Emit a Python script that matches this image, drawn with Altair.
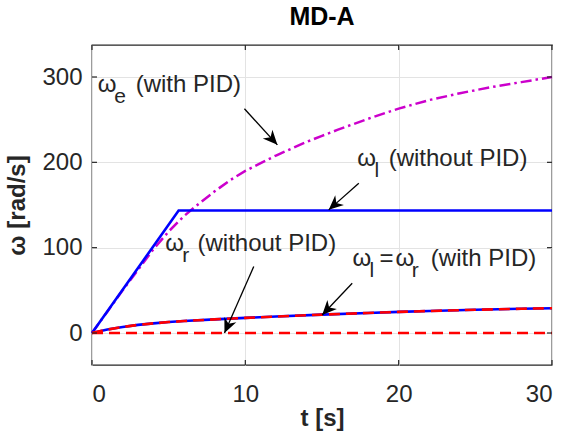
import math
import altair as alt
import pandas as pd

# ---------------- data ----------------
# omega_e with PID (magenta dash-dot)
t_e = [0, 1, 2, 3, 4, 5, 6, 7, 8, 9, 10, 11, 12, 13, 14, 15, 16, 18, 20, 22, 24, 26, 28, 30]
w_e = [0, 25, 50, 74, 98, 119, 137, 152, 166, 179, 190, 199, 208, 216, 224, 231, 238, 251, 263, 273, 281, 288, 294, 300]

# omega_l without PID (blue solid)
t_l0 = [0, 5.65, 30]
w_l0 = [0, 143.5, 143.5]

# omega_l = omega_r with PID (blue solid + red dashed)
t_pid = [0, 1, 2, 3, 4, 5, 6, 8, 10, 12, 15, 18, 20, 22, 25, 28, 30]
w_pid = [0, 4, 7, 9.5, 11.3, 12.8, 14, 16, 17.7, 19.3, 21.5, 23.5, 24.7, 25.8, 27.2, 28.4, 29]

# omega_r without PID (red dashed)
t_r0 = [0, 30]
w_r0 = [0, 0]

x_ticks = [0, 10, 20, 30]
y_ticks = [0, 100, 200, 300]
x_domain = [0, 30]
y_domain = [-37.5, 337.5]

# annotation text pieces (main size), anchored at left / baseline
ann_text = ["ω", "(with PID)", "ω", "(without PID)", "ω", "(without PID)", "ω", "=", "ω", "(with PID)"]
ann_t = [0.38, 2.85, 17.30, 19.35, 4.78, 6.88, 16.99, 18.75, 19.80, 22.10]
ann_v = [282.7, 282.7, 195.9, 195.9, 96.2, 96.2, 78.6, 78.6, 78.6, 78.6]

# subscript pieces
sub_text = ["e", "l", "r", "l", "r"]
sub_t = [1.45, 18.42, 5.88, 18.10, 20.85]
sub_v = [282.7, 195.9, 96.2, 78.6, 78.6]

# arrows: start -> tip
arr_t0 = [9.94, 17.40, 10.55, 16.97]
arr_v0 = [262.8, 175.6, 77.8, 58.3]
arr_t1 = [12.09, 15.44, 8.64, 15.01]
arr_v1 = [220.5, 144.3, 0.0, 21.1]

# ---------------- layout ----------------
W, H = 460, 320
FONT = "Liberation Sans"
TXT = "#262626"

xs = alt.Scale(domain=x_domain, nice=False, zero=False)
ys = alt.Scale(domain=y_domain, nice=False, zero=False)

x_axis = alt.Axis(values=x_ticks, title="t [s]", labelPadding=17, titlePadding=0,
                  grid=True, format="d")
y_axis = alt.Axis(values=y_ticks, title="ω [rad/s]", labelPadding=10, titlePadding=12,
                  grid=True, format="d")


def X(field="t"):
    return alt.X(f"{field}:Q", scale=xs, axis=x_axis)


def Y(field="v"):
    return alt.Y(f"{field}:Q", scale=ys, axis=y_axis)


def line_df(t, v):
    return pd.DataFrame({"t": t, "v": v})


mag = alt.Chart(line_df(t_e, w_e)).mark_line(
    color="#cc00cc", strokeWidth=2.5, strokeDash=[11, 4, 2.5, 4]
).encode(x=X(), y=Y(), order="t:Q")

blue0 = alt.Chart(line_df(t_l0, w_l0)).mark_line(
    color="#0000ff", strokeWidth=2.6
).encode(x=X(), y=Y(), order="t:Q")

blue_pid = alt.Chart(line_df(t_pid, w_pid)).mark_line(
    color="#0000ff", strokeWidth=2.6
).encode(x=X(), y=Y(), order="t:Q")

red_pid = alt.Chart(line_df(t_pid, w_pid)).mark_line(
    color="#ff0000", strokeWidth=2.6, strokeDash=[11, 6]
).encode(x=X(), y=Y(), order="t:Q")

red0 = alt.Chart(line_df(t_r0, w_r0)).mark_line(
    color="#ff0000", strokeWidth=2.6, strokeDash=[11, 6]
).encode(x=X(), y=Y(), order="t:Q")

# inward ticks (box on all four sides)
ytk = pd.DataFrame({"v": y_ticks})
xtk = pd.DataFrame({"t": x_ticks})
tick_style = dict(color=TXT, strokeWidth=1.2)
tl = alt.Chart(ytk).mark_rule(**tick_style).encode(y=Y(), x=alt.value(0), x2=alt.value(5))
tr = alt.Chart(ytk).mark_rule(**tick_style).encode(y=Y(), x=alt.value(W - 5), x2=alt.value(W))
tb = alt.Chart(xtk).mark_rule(**tick_style).encode(x=X(), y=alt.value(H), y2=alt.value(H - 5))
tt = alt.Chart(xtk).mark_rule(**tick_style).encode(x=X(), y=alt.value(0), y2=alt.value(5))

# annotations
ann = alt.Chart(pd.DataFrame({"t": ann_t, "v": ann_v, "s": ann_text})).mark_text(
    align="left", baseline="alphabetic", font=FONT, fontSize=24, color=TXT
).encode(x=X(), y=Y(), text="s:N")

sub = alt.Chart(pd.DataFrame({"t": sub_t, "v": sub_v, "s": sub_text})).mark_text(
    align="left", baseline="alphabetic", font=FONT, fontSize=21, color=TXT, dy=11
).encode(x=X(), y=Y(), text="s:N")

# arrows
px_t = W / (x_domain[1] - x_domain[0])
px_v = H / (y_domain[1] - y_domain[0])
angles = []
for a0, b0, a1, b1 in zip(arr_t0, arr_v0, arr_t1, arr_v1):
    dx = (a1 - a0) * px_t
    dy = -(b1 - b0) * px_v
    angles.append(math.degrees(math.atan2(dx, -dy)) % 360)

arr_df = pd.DataFrame({"t": arr_t0, "v": arr_v0, "t2": arr_t1, "v2": arr_v1, "ang": angles})
shaft = alt.Chart(arr_df).mark_rule(color="#000000", strokeWidth=1.3).encode(
    x=X(), y=Y(), x2="t2:Q", y2="v2:Q"
)
head_path = "M0,0L0.45,1L0,0.7L-0.45,1Z"
head = alt.Chart(arr_df).mark_point(
    shape=head_path, filled=True, color="#000000", opacity=1, size=841, strokeWidth=0
).encode(
    x=alt.X("t2:Q", scale=xs, axis=x_axis),
    y=alt.Y("v2:Q", scale=ys, axis=y_axis),
    angle=alt.Angle("ang:Q", scale=None),
)

chart = alt.layer(
    mag, blue0, blue_pid, red_pid, red0, tl, tr, tb, tt, shaft, head, ann, sub
).properties(
    width=W,
    height=H,
    title=alt.TitleParams("MD-A", fontSize=25, fontWeight="bold", font=FONT,
                          color="#000000", offset=14, anchor="middle"),
    autosize=alt.AutoSizeParams(type="none"),
    padding={"left": 92, "top": 45, "right": 15, "bottom": 70},
).configure_view(
    stroke=TXT, strokeWidth=1.3
).configure_axis(
    domain=False, tickSize=0, gridColor="#e3e3e3", gridWidth=1,
    labelFont=FONT, labelFontSize=24, labelColor=TXT,
    titleFont=FONT, titleFontSize=24, titleFontWeight="bold", titleColor=TXT,
)

chart.save("out.html", embed_options={"renderer": "svg", "actions": False})
